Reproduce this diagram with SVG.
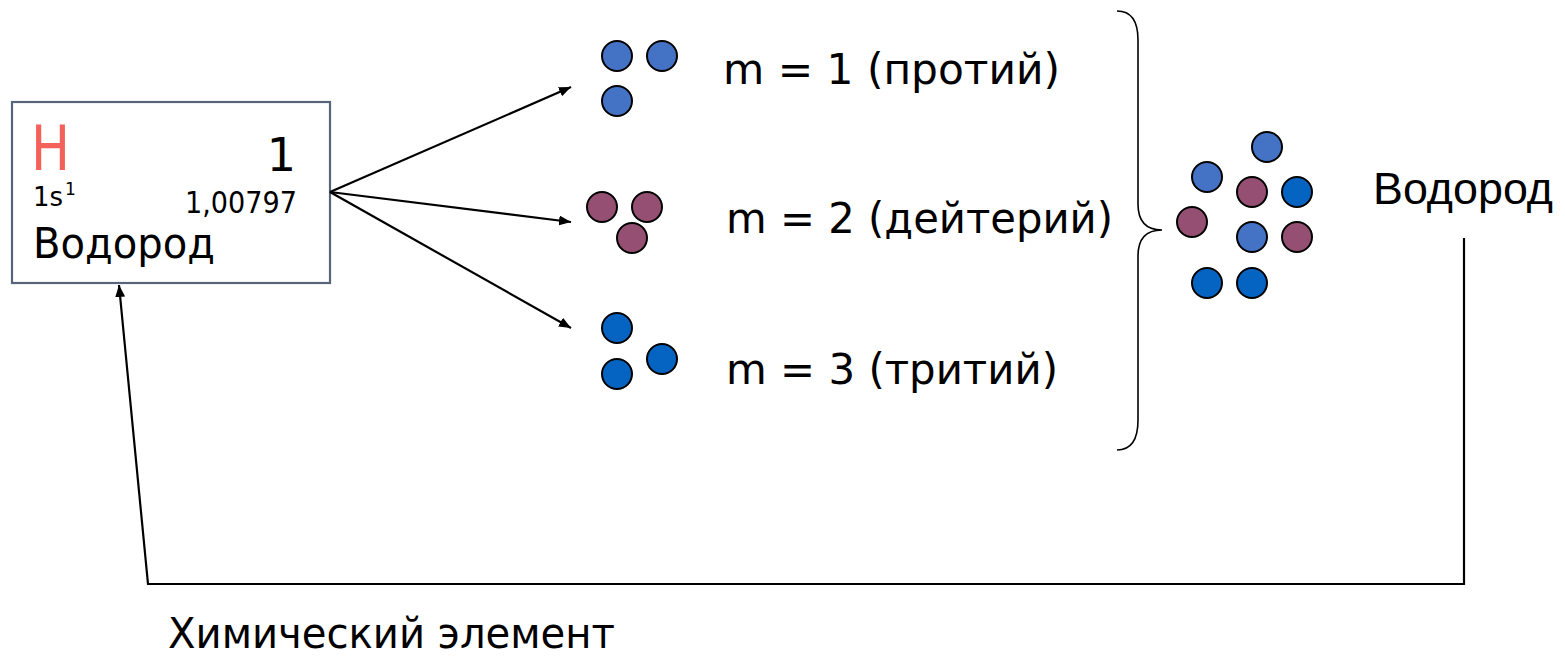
<svg xmlns="http://www.w3.org/2000/svg" width="1565" height="658" viewBox="0 0 1565 658">
<style>
.t{font-family:"DejaVu Sans","Liberation Sans",sans-serif;fill:#000}
.a{font-family:"Liberation Sans",Arial,sans-serif;fill:#000}
.c{stroke:#000;stroke-width:2.2;fill:none}
.p1{fill:#4472C4;stroke:#000;stroke-width:2}
.p2{fill:#954F72;stroke:#000;stroke-width:2}
.p3{fill:#0563C1;stroke:#000;stroke-width:2}
</style>
<defs>
<marker id="ah" viewBox="0 0 12 10" refX="12" refY="5" markerWidth="12" markerHeight="10" markerUnits="userSpaceOnUse" orient="auto">
<path d="M0,0 L12,5 L0,10 z" fill="#000"/>
</marker>
</defs>
<rect width="1565" height="658" fill="#fff"/>
<g id="element">
<rect x="12" y="102" width="318" height="181" fill="#fff" stroke="#56657A" stroke-width="2.2"/>
<text class="t" x="31" y="170" font-size="62" style="fill:#F4605A" textLength="39" lengthAdjust="spacingAndGlyphs">H</text>
<text class="t" x="296" y="171" font-size="46" text-anchor="end">1</text>
<text class="t" x="33" y="206" font-size="27"><tspan textLength="30" lengthAdjust="spacingAndGlyphs">1s</tspan><tspan dx="2" dy="-11" font-size="17">1</tspan></text>
<text class="t" x="185" y="213" font-size="30" textLength="112" lengthAdjust="spacingAndGlyphs">1,00797</text>
<text class="t" x="33" y="258" font-size="43" textLength="182" lengthAdjust="spacingAndGlyphs">Водород</text>
</g>
<g id="protium">
<circle class="p1" cx="617" cy="56" r="15"/>
<circle class="p1" cx="662" cy="56" r="15"/>
<circle class="p1" cx="617" cy="101" r="15"/>
<text class="t" x="723" y="84" font-size="42" textLength="337" lengthAdjust="spacingAndGlyphs">m = 1 (протий)</text>
</g>
<g id="deuterium">
<circle class="p2" cx="602" cy="207" r="15"/>
<circle class="p2" cx="647" cy="207" r="15"/>
<circle class="p2" cx="632" cy="238" r="15"/>
<text class="t" x="726" y="233" font-size="42" textLength="387" lengthAdjust="spacingAndGlyphs">m = 2 (дейтерий)</text>
</g>
<g id="tritium">
<circle class="p3" cx="617" cy="328" r="15"/>
<circle class="p3" cx="662" cy="359" r="15"/>
<circle class="p3" cx="617" cy="374" r="15"/>
<text class="t" x="726" y="384" font-size="42" textLength="332" lengthAdjust="spacingAndGlyphs">m = 3 (тритий)</text>
</g>
<g id="mixture">
<path d="M1117,11 C1131,11 1138,20 1138,40 L1138,204 C1138,222 1147,230 1162,230 C1147,230 1138,238 1138,256 L1138,420 C1138,440 1131,450 1117,450" fill="none" stroke="#000" stroke-width="1.6"/>
<circle class="p1" cx="1267" cy="147" r="15"/>
<circle class="p1" cx="1207" cy="177" r="15"/>
<circle class="p2" cx="1252" cy="192" r="15"/>
<circle class="p3" cx="1297" cy="192" r="15"/>
<circle class="p2" cx="1192" cy="222" r="15"/>
<circle class="p1" cx="1252" cy="237" r="15"/>
<circle class="p2" cx="1297" cy="237" r="15"/>
<circle class="p3" cx="1207" cy="283" r="15"/>
<circle class="p3" cx="1252" cy="283" r="15"/>
<text class="a" x="1373" y="204" font-size="45" textLength="180" lengthAdjust="spacingAndGlyphs">Водород</text>
</g>
<g id="label-element">
<text class="t" x="168" y="648" font-size="43" textLength="447" lengthAdjust="spacingAndGlyphs">Химический элемент</text>
</g>
<g id="connectors">
<line class="c" x1="330" y1="192" x2="571" y2="87" marker-end="url(#ah)"/>
<line class="c" x1="330" y1="192" x2="571" y2="222" marker-end="url(#ah)"/>
<line class="c" x1="330" y1="192" x2="571" y2="328" marker-end="url(#ah)"/>
<polyline class="c" points="1464,238 1464,584 148,584 119,285" marker-end="url(#ah)"/>
</g>
</svg>
